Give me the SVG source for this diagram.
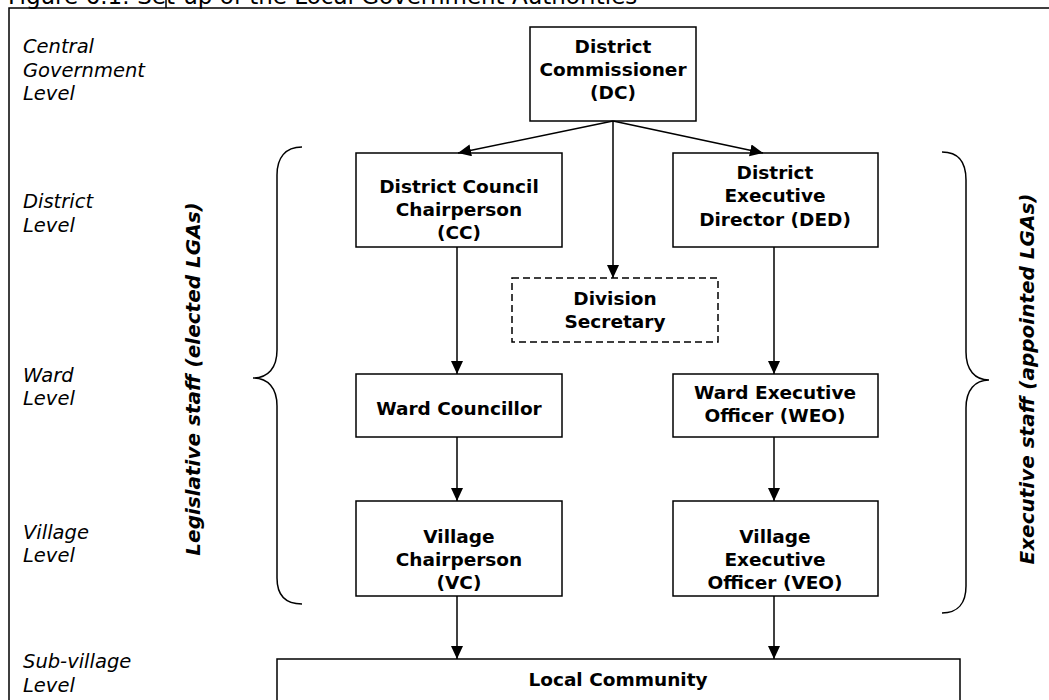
<svg xmlns="http://www.w3.org/2000/svg" width="1049" height="700" viewBox="0 0 1049 700">
  <style>
    .frame { stroke: #000; stroke-width: 1.5; fill: none; }
    .box { fill: none; stroke: #000; stroke-width: 1.5; }
    .dashed { stroke-dasharray: 7 4; }
    .lbl { font-family: "DejaVu Sans", Verdana, sans-serif; font-weight: bold; font-size: 18.5px; text-anchor: middle; fill: #000; }
    .lvl { font-family: "DejaVu Sans", Verdana, sans-serif; font-style: italic; font-size: 19.5px; fill: #000; }
    .side { font-family: "DejaVu Sans", Verdana, sans-serif; font-style: italic; font-weight: bold; font-size: 20px; text-anchor: middle; fill: #000; }
    .title { font-family: "DejaVu Sans", Verdana, sans-serif; font-size: 23px; fill: #000; }
    .edge { stroke: #000; stroke-width: 1.5; fill: none; marker-end: url(#arrow); }
    .brace { stroke: #000; stroke-width: 1.5; fill: none; }
  </style>
  <defs>
    <marker id="arrow" markerUnits="userSpaceOnUse" markerWidth="14" markerHeight="14" refX="13" refY="6" orient="auto">
      <path d="M0,0 L13,6 L0,12 z" fill="#000"/>
    </marker>
    <clipPath id="pageClip">
      <rect x="0" y="0" width="1049" height="692"/>
    </clipPath>
  </defs>
  <rect x="0" y="0" width="1049" height="700" fill="#fff"/>

  <!-- caption above the frame -->
  <text class="title" x="8" y="4">Figure 6.1: Set-up of the Local Government Authorities</text>

  <!-- outer frame -->
  <path class="frame" d="M9,700 L9,8 L1049,8"/>
  <line class="frame" x1="166" y1="0" x2="166" y2="8"/>

  <!-- level labels -->
  <g id="levels" clip-path="url(#pageClip)">
    <text class="lvl" x="23" y="53">Central</text>
    <text class="lvl" x="23" y="77">Government</text>
    <text class="lvl" x="23" y="100">Level</text>
    <text class="lvl" x="23" y="208">District</text>
    <text class="lvl" x="23" y="232">Level</text>
    <text class="lvl" x="23" y="382">Ward</text>
    <text class="lvl" x="23" y="405">Level</text>
    <text class="lvl" x="23" y="539">Village</text>
    <text class="lvl" x="23" y="562">Level</text>
    <text class="lvl" x="23" y="668">Sub-village</text>
    <text class="lvl" x="23" y="692">Level</text>
  </g>

  <!-- braces and side captions -->
  <g id="legislative">
    <path class="brace" d="M302,147 C285,147 277,158 277,175 L277,350 C277,368 268,378 253,378 C268,378 277,388 277,406 L277,578 C277,595 285,604 302,604"/>
    <text class="side" transform="translate(200,379) rotate(-90)">Legislative staff (elected LGAs)</text>
  </g>
  <g id="executive">
    <path class="brace" d="M942,152 C959,152 966,163 966,180 L966,352 C966,370 975,380 989,380 C975,380 966,390 966,408 L966,586 C966,603 958,613 942,613"/>
    <text class="side" transform="translate(1034,379) rotate(-90)">Executive staff (appointed LGAs)</text>
  </g>

  <!-- connectors -->
  <g id="connectors">
    <line class="edge" x1="613" y1="121" x2="458" y2="153"/>
    <line class="edge" x1="613" y1="121" x2="613" y2="278"/>
    <line class="edge" x1="613" y1="121" x2="763" y2="153"/>
    <line class="edge" x1="457" y1="247" x2="457" y2="374"/>
    <line class="edge" x1="774" y1="247" x2="774" y2="374"/>
    <line class="edge" x1="457" y1="437" x2="457" y2="501"/>
    <line class="edge" x1="774" y1="437" x2="774" y2="501"/>
    <line class="edge" x1="457" y1="596" x2="457" y2="659"/>
    <line class="edge" x1="774" y1="596" x2="774" y2="659"/>
  </g>

  <!-- nodes -->
  <g id="dc">
    <text class="lbl" x="613" y="53">District</text>
    <text class="lbl" x="613" y="76">Commissioner</text>
    <text class="lbl" x="613" y="99">(DC)</text>
    <rect class="box" x="530" y="27" width="166" height="94"/>
  </g>
  <g id="cc">
    <text class="lbl" x="459" y="193">District Council</text>
    <text class="lbl" x="459" y="216">Chairperson</text>
    <text class="lbl" x="459" y="239">(CC)</text>
    <rect class="box" x="356" y="153" width="206" height="94"/>
  </g>
  <g id="ded">
    <text class="lbl" x="775" y="179">District</text>
    <text class="lbl" x="775" y="202">Executive</text>
    <text class="lbl" x="775" y="226">Director (DED)</text>
    <rect class="box" x="673" y="153" width="205" height="94"/>
  </g>
  <g id="division-secretary">
    <text class="lbl" x="615" y="305">Division</text>
    <text class="lbl" x="615" y="328">Secretary</text>
    <rect class="box dashed" x="512" y="278" width="206" height="64"/>
  </g>
  <g id="ward-councillor">
    <text class="lbl" x="459" y="415">Ward Councillor</text>
    <rect class="box" x="356" y="374" width="206" height="63"/>
  </g>
  <g id="weo">
    <text class="lbl" x="775" y="399">Ward Executive</text>
    <text class="lbl" x="775" y="422">Officer (WEO)</text>
    <rect class="box" x="673" y="374" width="205" height="63"/>
  </g>
  <g id="vc">
    <text class="lbl" x="459" y="543">Village</text>
    <text class="lbl" x="459" y="566">Chairperson</text>
    <text class="lbl" x="459" y="589">(VC)</text>
    <rect class="box" x="356" y="501" width="206" height="95"/>
  </g>
  <g id="veo">
    <text class="lbl" x="775" y="543">Village</text>
    <text class="lbl" x="775" y="566">Executive</text>
    <text class="lbl" x="775" y="589">Officer (VEO)</text>
    <rect class="box" x="673" y="501" width="205" height="95"/>
  </g>
  <g id="local-community">
    <text class="lbl" x="618" y="686">Local Community</text>
    <rect class="box" x="277" y="659" width="683" height="60"/>
  </g>
</svg>
